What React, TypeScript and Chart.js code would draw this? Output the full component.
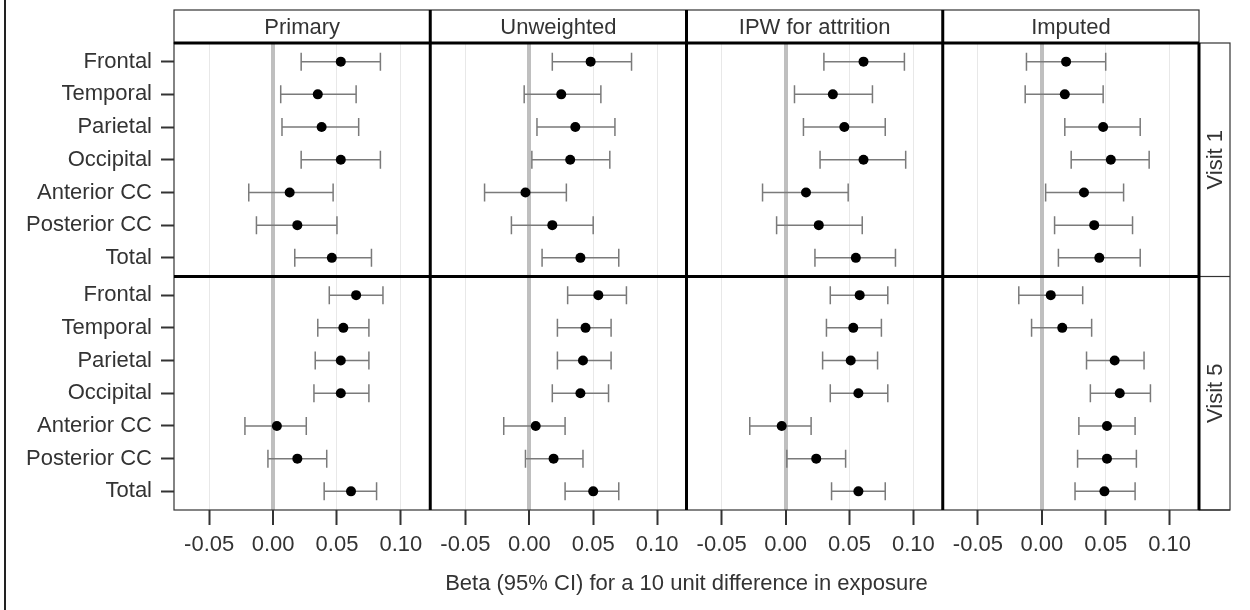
import React, { useEffect, useRef } from 'react';
import { Chart, registerables } from 'chart.js';

Chart.register(...registerables);

// ---------- data ----------
const CATEGORIES = ['Frontal', 'Temporal', 'Parietal', 'Occipital', 'Anterior CC', 'Posterior CC', 'Total'];
const COLUMNS = ['Primary', 'Unweighted', 'IPW for attrition', 'Imputed'];
const ROWS = ['Visit 1', 'Visit 5'];
const X_TICKS = [-0.05, 0, 0.05, 0.1];
const X_TITLE = 'Beta (95% CI) for a 10 unit difference in exposure';

// Visit 1
const V1_PRIMARY_EST = [0.053, 0.035, 0.038, 0.053, 0.013, 0.019, 0.046];
const V1_PRIMARY_LO = [0.022, 0.006, 0.007, 0.022, -0.019, -0.013, 0.017];
const V1_PRIMARY_HI = [0.084, 0.065, 0.067, 0.084, 0.047, 0.050, 0.077];

const V1_UNWEIGHTED_EST = [0.048, 0.025, 0.036, 0.032, -0.003, 0.018, 0.040];
const V1_UNWEIGHTED_LO = [0.018, -0.004, 0.006, 0.002, -0.035, -0.014, 0.010];
const V1_UNWEIGHTED_HI = [0.080, 0.056, 0.067, 0.063, 0.029, 0.050, 0.070];

const V1_IPW_EST = [0.061, 0.037, 0.046, 0.061, 0.016, 0.026, 0.055];
const V1_IPW_LO = [0.030, 0.007, 0.014, 0.027, -0.018, -0.007, 0.023];
const V1_IPW_HI = [0.093, 0.068, 0.078, 0.094, 0.049, 0.060, 0.086];

const V1_IMPUTED_EST = [0.019, 0.018, 0.048, 0.054, 0.033, 0.041, 0.045];
const V1_IMPUTED_LO = [-0.012, -0.013, 0.018, 0.023, 0.003, 0.010, 0.013];
const V1_IMPUTED_HI = [0.050, 0.048, 0.077, 0.084, 0.064, 0.071, 0.077];

// Visit 5
const V5_PRIMARY_EST = [0.065, 0.055, 0.053, 0.053, 0.003, 0.019, 0.061];
const V5_PRIMARY_LO = [0.044, 0.035, 0.033, 0.032, -0.022, -0.004, 0.040];
const V5_PRIMARY_HI = [0.086, 0.075, 0.075, 0.075, 0.026, 0.042, 0.081];

const V5_UNWEIGHTED_EST = [0.054, 0.044, 0.042, 0.040, 0.005, 0.019, 0.050];
const V5_UNWEIGHTED_LO = [0.030, 0.022, 0.022, 0.018, -0.020, -0.003, 0.028];
const V5_UNWEIGHTED_HI = [0.076, 0.064, 0.064, 0.062, 0.028, 0.042, 0.070];

const V5_IPW_EST = [0.058, 0.053, 0.051, 0.057, -0.003, 0.024, 0.057];
const V5_IPW_LO = [0.035, 0.032, 0.029, 0.035, -0.028, 0.001, 0.036];
const V5_IPW_HI = [0.080, 0.075, 0.072, 0.080, 0.020, 0.047, 0.078];

const V5_IMPUTED_EST = [0.007, 0.016, 0.057, 0.061, 0.051, 0.051, 0.049];
const V5_IMPUTED_LO = [-0.018, -0.008, 0.035, 0.038, 0.029, 0.028, 0.026];
const V5_IMPUTED_HI = [0.032, 0.039, 0.080, 0.085, 0.073, 0.074, 0.073];

const PANELS = [
  [
    [V1_PRIMARY_EST, V1_PRIMARY_LO, V1_PRIMARY_HI],
    [V1_UNWEIGHTED_EST, V1_UNWEIGHTED_LO, V1_UNWEIGHTED_HI],
    [V1_IPW_EST, V1_IPW_LO, V1_IPW_HI],
    [V1_IMPUTED_EST, V1_IMPUTED_LO, V1_IMPUTED_HI],
  ],
  [
    [V5_PRIMARY_EST, V5_PRIMARY_LO, V5_PRIMARY_HI],
    [V5_UNWEIGHTED_EST, V5_UNWEIGHTED_LO, V5_UNWEIGHTED_HI],
    [V5_IPW_EST, V5_IPW_LO, V5_IPW_HI],
    [V5_IMPUTED_EST, V5_IMPUTED_LO, V5_IMPUTED_HI],
  ],
];

// ---------- styling ----------
const FONT_FAMILY = '"Liberation Sans", Arial, Helvetica, sans-serif';
const FONT_SIZE = 22;
const TEXT_COLOR = '#333333';
const X_MIN = -0.0775;
const X_MAX = 0.123;
const Y_MIN = -0.57;
const Y_MAX = 6.57;

const errorBarPlugin = {
  id: 'errorBars',
  beforeDatasetsDraw(chart: any) {
    const ctx = chart.ctx;
    ctx.save();
    chart.data.datasets.forEach((ds: any, di: number) => {
      const meta = chart.getDatasetMeta(di);
      const xs = meta.xScale;
      const ys = meta.yScale;
      ds.data.forEach((p: any) => {
        const y = ys.getPixelForValue(p.y);
        const x1 = xs.getPixelForValue(p.lo);
        const x2 = xs.getPixelForValue(p.hi);
        ctx.strokeStyle = '#7a7a7a';
        ctx.lineWidth = 1.5;
        ctx.beginPath();
        ctx.moveTo(x1, y);
        ctx.lineTo(x2, y);
        ctx.moveTo(x1, y - 9);
        ctx.lineTo(x1, y + 9);
        ctx.moveTo(x2, y - 9);
        ctx.lineTo(x2, y + 9);
        ctx.stroke();
      });
    });
    ctx.restore();
  },
};

const framePlugin = {
  id: 'frames',
  afterDraw(chart: any) {
    const ctx = chart.ctx;
    const area = chart.chartArea;
    const cols = COLUMNS.map((_, c) => chart.scales['x' + c]);
    const rows = ROWS.map((_, r) => chart.scales['y' + r]);
    const headTop = 10;
    const stripRight = area.right + 31;
    ctx.save();

    // outer page frame (left edge)
    ctx.strokeStyle = '#222';
    ctx.lineWidth = 2;
    ctx.beginPath();
    ctx.moveTo(5, 0);
    ctx.lineTo(5, chart.height);
    ctx.stroke();

    // header strips
    ctx.font = `${FONT_SIZE}px ${FONT_FAMILY}`;
    ctx.fillStyle = TEXT_COLOR;
    ctx.textAlign = 'center';
    ctx.textBaseline = 'middle';
    cols.forEach((s: any, c: number) => {
      ctx.fillText(COLUMNS[c], (s.left + s.right) / 2, (headTop + area.top) / 2 + 1);
    });
    // thin outlines
    ctx.strokeStyle = '#333';
    ctx.lineWidth = 1.2;
    ctx.strokeRect(area.left, headTop, area.right - area.left, area.top - headTop);
    ctx.strokeRect(area.left, area.top, area.right - area.left, area.bottom - area.top);
    ctx.strokeRect(area.right, area.top, stripRight - area.right, area.bottom - area.top);
    rows.forEach((s: any) => {
      ctx.beginPath();
      ctx.moveTo(area.right, s.bottom);
      ctx.lineTo(stripRight, s.bottom);
      ctx.stroke();
    });

    // row strips text
    rows.forEach((s: any, r: number) => {
      ctx.save();
      ctx.translate((area.right + stripRight) / 2 + 1, (s.top + s.bottom) / 2);
      ctx.rotate(-Math.PI / 2);
      ctx.fillStyle = TEXT_COLOR;
      ctx.textAlign = 'center';
      ctx.textBaseline = 'middle';
      ctx.fillText(ROWS[r], 0, 0);
      ctx.restore();
    });

    // thick internal separators
    ctx.strokeStyle = '#000';
    ctx.lineWidth = 3;
    ctx.beginPath();
    cols.forEach((s: any, c: number) => {
      if (c > 0) {
        ctx.moveTo(s.left, headTop);
        ctx.lineTo(s.left, area.bottom);
      }
    });
    ctx.moveTo(area.right, area.top);
    ctx.lineTo(area.right, area.bottom);
    ctx.moveTo(area.left, area.top);
    ctx.lineTo(area.right, area.top);
    rows.forEach((s: any, r: number) => {
      if (r < rows.length - 1) {
        ctx.moveTo(area.left, s.bottom);
        ctx.lineTo(area.right, s.bottom);
      }
    });
    ctx.stroke();

    // global x title
    ctx.fillStyle = TEXT_COLOR;
    ctx.textAlign = 'center';
    ctx.textBaseline = 'middle';
    ctx.fillText(X_TITLE, (area.left + area.right) / 2, 584);
    ctx.restore();
  },
};

function buildDatasets() {
  const sets: any[] = [];
  PANELS.forEach((row, r) => {
    row.forEach(([est, lo, hi], c) => {
      sets.push({
        label: `${ROWS[r]} ${COLUMNS[c]}`,
        type: 'scatter',
        xAxisID: 'x' + c,
        yAxisID: 'y' + r,
        data: CATEGORIES.map((_, i) => ({ x: est[i], y: i, lo: lo[i], hi: hi[i] })),
        pointRadius: 5,
        pointHoverRadius: 5,
        pointBackgroundColor: '#000',
        pointBorderColor: '#000',
        pointBorderWidth: 0,
        showLine: false,
      });
    });
  });
  return sets;
}

function buildScales() {
  const scales: any = {};
  COLUMNS.forEach((_, c) => {
    scales['x' + c] = {
      type: 'linear',
      position: 'bottom',
      stack: 'cols',
      stackWeight: 1,
      min: X_MIN,
      max: X_MAX,
      afterBuildTicks: (s: any) => {
        s.ticks = X_TICKS.map((v) => ({ value: v }));
      },
      afterFit: (s: any) => {
        s.height = 100;
      },
      border: { display: false },
      grid: {
        drawOnChartArea: true,
        drawTicks: true,
        tickLength: 15,
        color: (ctx: any) => (ctx.tick && ctx.tick.value === 0 ? '#bfbfbf' : '#e8e8e8'),
        lineWidth: (ctx: any) => (ctx.tick && ctx.tick.value === 0 ? 4 : 1),
        tickColor: '#333',
        tickWidth: 2,
      },
      ticks: {
        autoSkip: false,
        maxRotation: 0,
        minRotation: 0,
        padding: 7,
        color: TEXT_COLOR,
        font: { family: FONT_FAMILY, size: FONT_SIZE },
        callback: (v: any) => Number(v).toFixed(2),
      },
    };
  });
  ROWS.forEach((_, r) => {
    scales['y' + r] = {
      type: 'linear',
      position: 'left',
      stack: 'rows',
      stackWeight: 1,
      weight: ROWS.length - r,
      reverse: true,
      min: Y_MIN,
      max: Y_MAX,
      afterBuildTicks: (s: any) => {
        s.ticks = CATEGORIES.map((_, i) => ({ value: i }));
      },
      afterFit: (s: any) => {
        s.width = 174;
      },
      border: { display: false },
      grid: {
        drawOnChartArea: false,
        drawTicks: true,
        tickLength: 13,
        tickColor: '#333',
        tickWidth: 2,
      },
      ticks: {
        autoSkip: false,
        padding: 9,
        color: TEXT_COLOR,
        font: { family: FONT_FAMILY, size: FONT_SIZE },
        callback: (v: any) => CATEGORIES[Math.round(Number(v))] ?? '',
      },
    };
  });
  return scales;
}

export default function App() {
  const ref = useRef<HTMLCanvasElement | null>(null);
  useEffect(() => {
    if (!ref.current) return;
    const chart = new Chart(ref.current, {
      type: 'scatter',
      data: { datasets: buildDatasets() },
      options: {
        responsive: false,
        animation: false,
        devicePixelRatio: 1,
        layout: { padding: { top: 43, right: 51, left: 0, bottom: 0 } },
        plugins: { legend: { display: false }, tooltip: { enabled: false }, title: { display: false } },
        scales: buildScales(),
      },
      plugins: [errorBarPlugin, framePlugin],
    } as any);
    return () => chart.destroy();
  }, []);
  return (
    <div style={{ position: 'fixed', left: 0, top: 0, width: 1250, height: 610, background: '#fff' }}>
      <canvas ref={ref} width={1250} height={610} style={{ display: 'block', width: 1250, height: 610 }} />
    </div>
  );
}
